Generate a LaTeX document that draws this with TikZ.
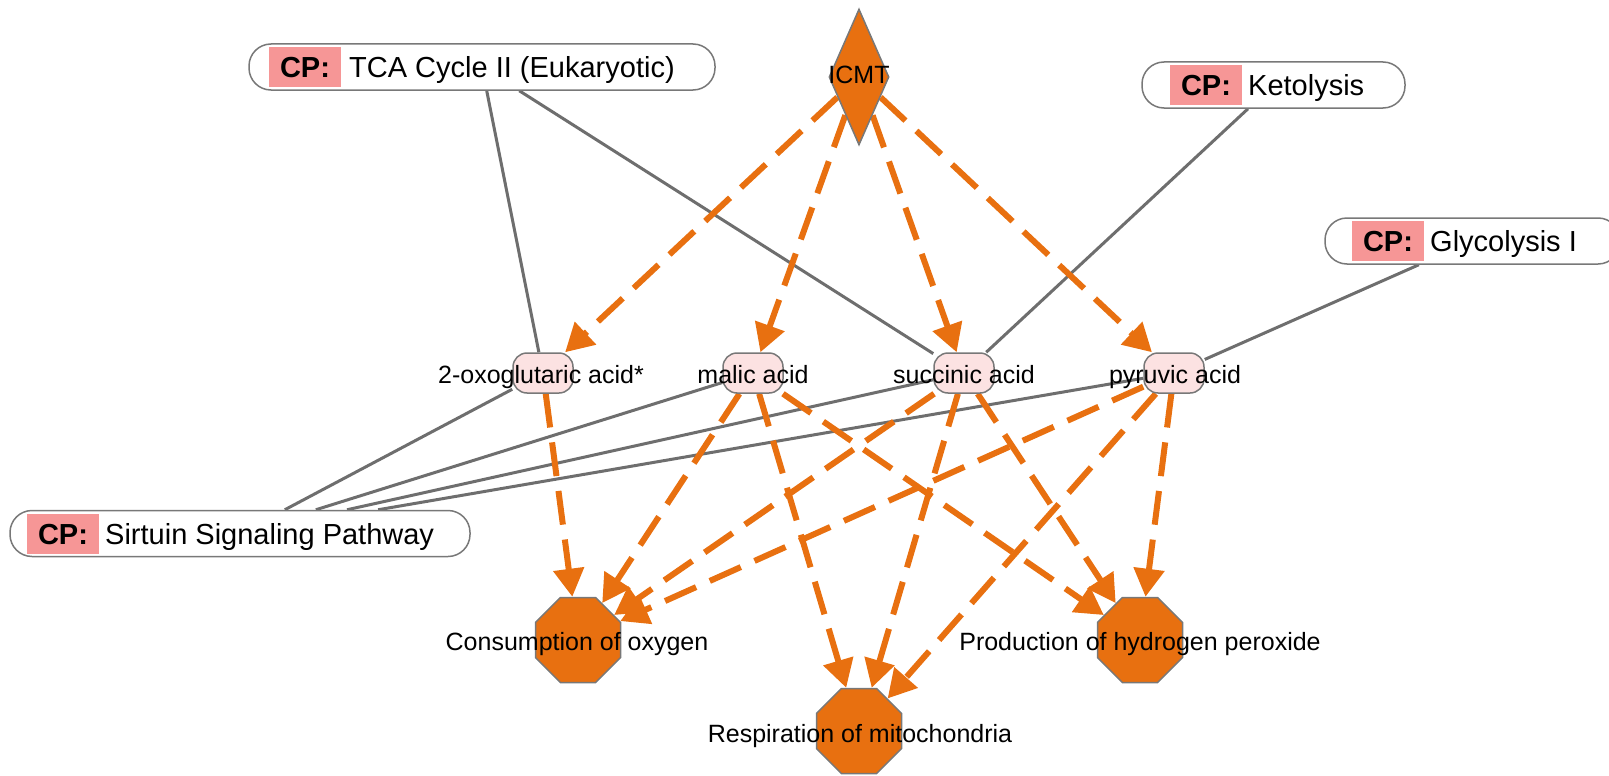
\documentclass[tikz,border=0pt]{standalone}
\usepackage{fontspec}
\setmainfont{Liberation Sans}
\usetikzlibrary{arrows.meta,shapes.geometric}
\definecolor{org}{RGB}{232,112,16}
\definecolor{cppink}{RGB}{246,150,150}
\definecolor{acidfill}{RGB}{252,226,226}
\definecolor{edgegray}{RGB}{110,110,110}
\definecolor{bordergray}{RGB}{120,120,120}
\pgfdeclarelayer{bg}
\pgfsetlayers{bg,main}
\begin{document}
\begin{tikzpicture}[x=1pt,y=-1pt,
  cpframe/.style={draw=bordergray, line width=1.5pt, fill=white, rounded corners=22pt, inner sep=0pt, minimum height=46pt},
  cptag/.style={fill=cppink, inner sep=0pt, minimum width=72pt, minimum height=40pt, text height=21pt, text depth=0pt, font=\fontsize{29}{34}\selectfont\bfseries},
  cptext/.style={anchor=west, inner sep=0pt, text height=21pt, text depth=0pt, font=\fontsize{29}{34}\selectfont},
  acid/.style={draw=bordergray, line width=1.5pt, fill=acidfill, rounded corners=14pt, minimum width=60pt, minimum height=40pt, inner sep=0pt},
  lbl/.style={inner sep=0pt, text height=18pt, text depth=0pt, font=\fontsize{25}{30}\selectfont},
  effect/.style={regular polygon, regular polygon sides=8, minimum size=92pt, inner sep=0pt, fill=org, draw=bordergray, line width=1.5pt},
  regulator/.style={diamond, fill=org, draw=bordergray, line width=1.5pt, minimum width=60pt, minimum height=136pt, inner sep=0pt},
  gline/.style={draw=edgegray, line width=3pt},
  oarrow/.style={draw=org, line width=6pt, dash pattern=on 34pt off 15pt, -{Triangle[length=28pt,width=30pt]}}
]
\useasboundingbox (0,0) rectangle (1609,776);

% canonical pathways
\node[cpframe, minimum width=466pt] (tca) at (482,67) {};
\node[cptag] (tcatag) at (305,67) {CP:};
\node[cptext] (tcatext) at (349,67) {TCA Cycle II (Eukaryotic)};

\node[cpframe, minimum width=263pt] (keto) at (1273.5,85) {};
\node[cptag] (ketotag) at (1206,85) {CP:};
\node[cptext] (ketotext) at (1248,85) {Ketolysis};

\node[cpframe, minimum width=295pt] (gly) at (1472.5,241) {};
\node[cptag] (glytag) at (1388,241) {CP:};
\node[cptext] (glytext) at (1430,241) {Glycolysis I};

\node[cpframe, minimum width=460pt] (sirt) at (240,533.5) {};
\node[cptag] (sirttag) at (63,533.5) {CP:};
\node[cptext] (sirttext) at (105,533.5) {Sirtuin Signaling Pathway};

% regulator
\node[regulator] (icmt) at (859,77) {};
\node[lbl] (icmtL) at (859,74) {ICMT};

% metabolites
\node[acid] (oxo) at (543,373) {};
\node[lbl] (oxoL) at (541,374) {2-oxoglutaric acid*};
\node[acid] (mal) at (753,373) {};
\node[lbl] (malL) at (753,374) {malic acid};
\node[acid] (suc) at (964,373) {};
\node[lbl] (sucL) at (964,374) {succinic acid};
\node[acid] (pyr) at (1174,373) {};
\node[lbl] (pyrL) at (1175,374) {pyruvic acid};

% functions
\node[effect] (cons) at (578,640) {};
\node[lbl] (consL) at (577,641) {Consumption of oxygen};
\node[effect] (resp) at (859,731) {};
\node[lbl] (respL) at (860,733) {Respiration of mitochondria};
\node[effect] (prod) at (1140,640) {};
\node[lbl] (prodL) at (1140,641) {Production of hydrogen peroxide};

\begin{pgfonlayer}{bg}
\draw[gline] (tca) -- (oxo);
\draw[gline] (tca) -- (suc);
\draw[gline] (keto) -- (suc);
\draw[gline] (gly) -- (pyr);
\draw[gline] (sirt) -- (oxo);
\draw[gline] (sirt) -- (mal);
\draw[gline] (sirt) -- (suc);
\draw[gline] (sirt) -- (pyr);

\draw[oarrow] (icmt) -- (oxo);
\draw[oarrow] (icmt) -- (mal);
\draw[oarrow] (icmt) -- (suc);
\draw[oarrow] (icmt) -- (pyr);

\draw[oarrow] (oxo) -- (cons);
\draw[oarrow] (mal) -- (cons);
\draw[oarrow] (mal) -- (resp);
\draw[oarrow] (mal) -- (prod);
\draw[oarrow] (suc) -- (cons);
\draw[oarrow] (suc) -- (resp);
\draw[oarrow] (suc) -- (prod);
\draw[oarrow] (pyr) -- (cons);
\draw[oarrow] (pyr) -- (resp);
\draw[oarrow] (pyr) -- (prod);
\end{pgfonlayer}
\end{tikzpicture}
\end{document}
